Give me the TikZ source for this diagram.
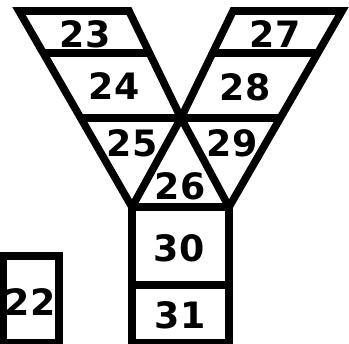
\documentclass[tikz,border=0pt]{standalone}
\usepackage{fontspec}
\setmainfont{DejaVu Sans}
\begin{document}
\begin{tikzpicture}[x=0.03cm,y=-0.03cm,
    wall/.style={line width=6.5pt,line join=miter},
    num/.style={font=\bfseries\fontsize{31}{32}\selectfont,inner sep=0pt}]
    \useasboundingbox (0,0) rectangle (349,343);
    % Eckpunkte des Y
    \coordinate (tl) at (19,11);
    \coordinate (tr1) at (129,11);
    \coordinate (tl2) at (233,11);
    \coordinate (tr) at (342,11);
    \coordinate (mid) at (181,118);
    \coordinate (bl) at (132,207);
    \coordinate (br) at (229,207);
    \coordinate (sockl) at (132,343);
    \coordinate (sockr) at (229,343);

    % Umriss
    \draw[wall] (tl) -- (tr1) -- (mid) -- (tl2) -- (tr) -- (br) -- (sockr) -- (sockl) -- (bl) -- cycle;
    % Innenlinien
    \draw[wall] (mid) -- (br);
    \draw[wall] (mid) -- (bl);
    \draw[wall] (bl) -- (br);
    \draw[wall] (43,53) -- (149,53);
    \draw[wall] (213,53) -- (318,53);
    \draw[wall] (81,118) -- (280,118);
    \draw[wall] (132,285) -- (229,285);
    % einzelnes Feld
    \draw[wall] (3,256) rectangle (59,343);

    % Nummern
    \node[num] (n23) at (85,34) {23};
    \node[num] (n24) at (114,86) {24};
    \node[num] (n25) at (132,143) {25};
    \node[num] (n26) at (180,186) {26};
    \node[num] (n27) at (275,34) {27};
    \node[num] (n28) at (245,87) {28};
    \node[num] (n29) at (232,143) {29};
    \node[num] (n30) at (179,248) {30};
    \node[num] (n31) at (180,315) {31};
    \node[num] (n22) at (30,302) {22};
\end{tikzpicture}
\end{document}
